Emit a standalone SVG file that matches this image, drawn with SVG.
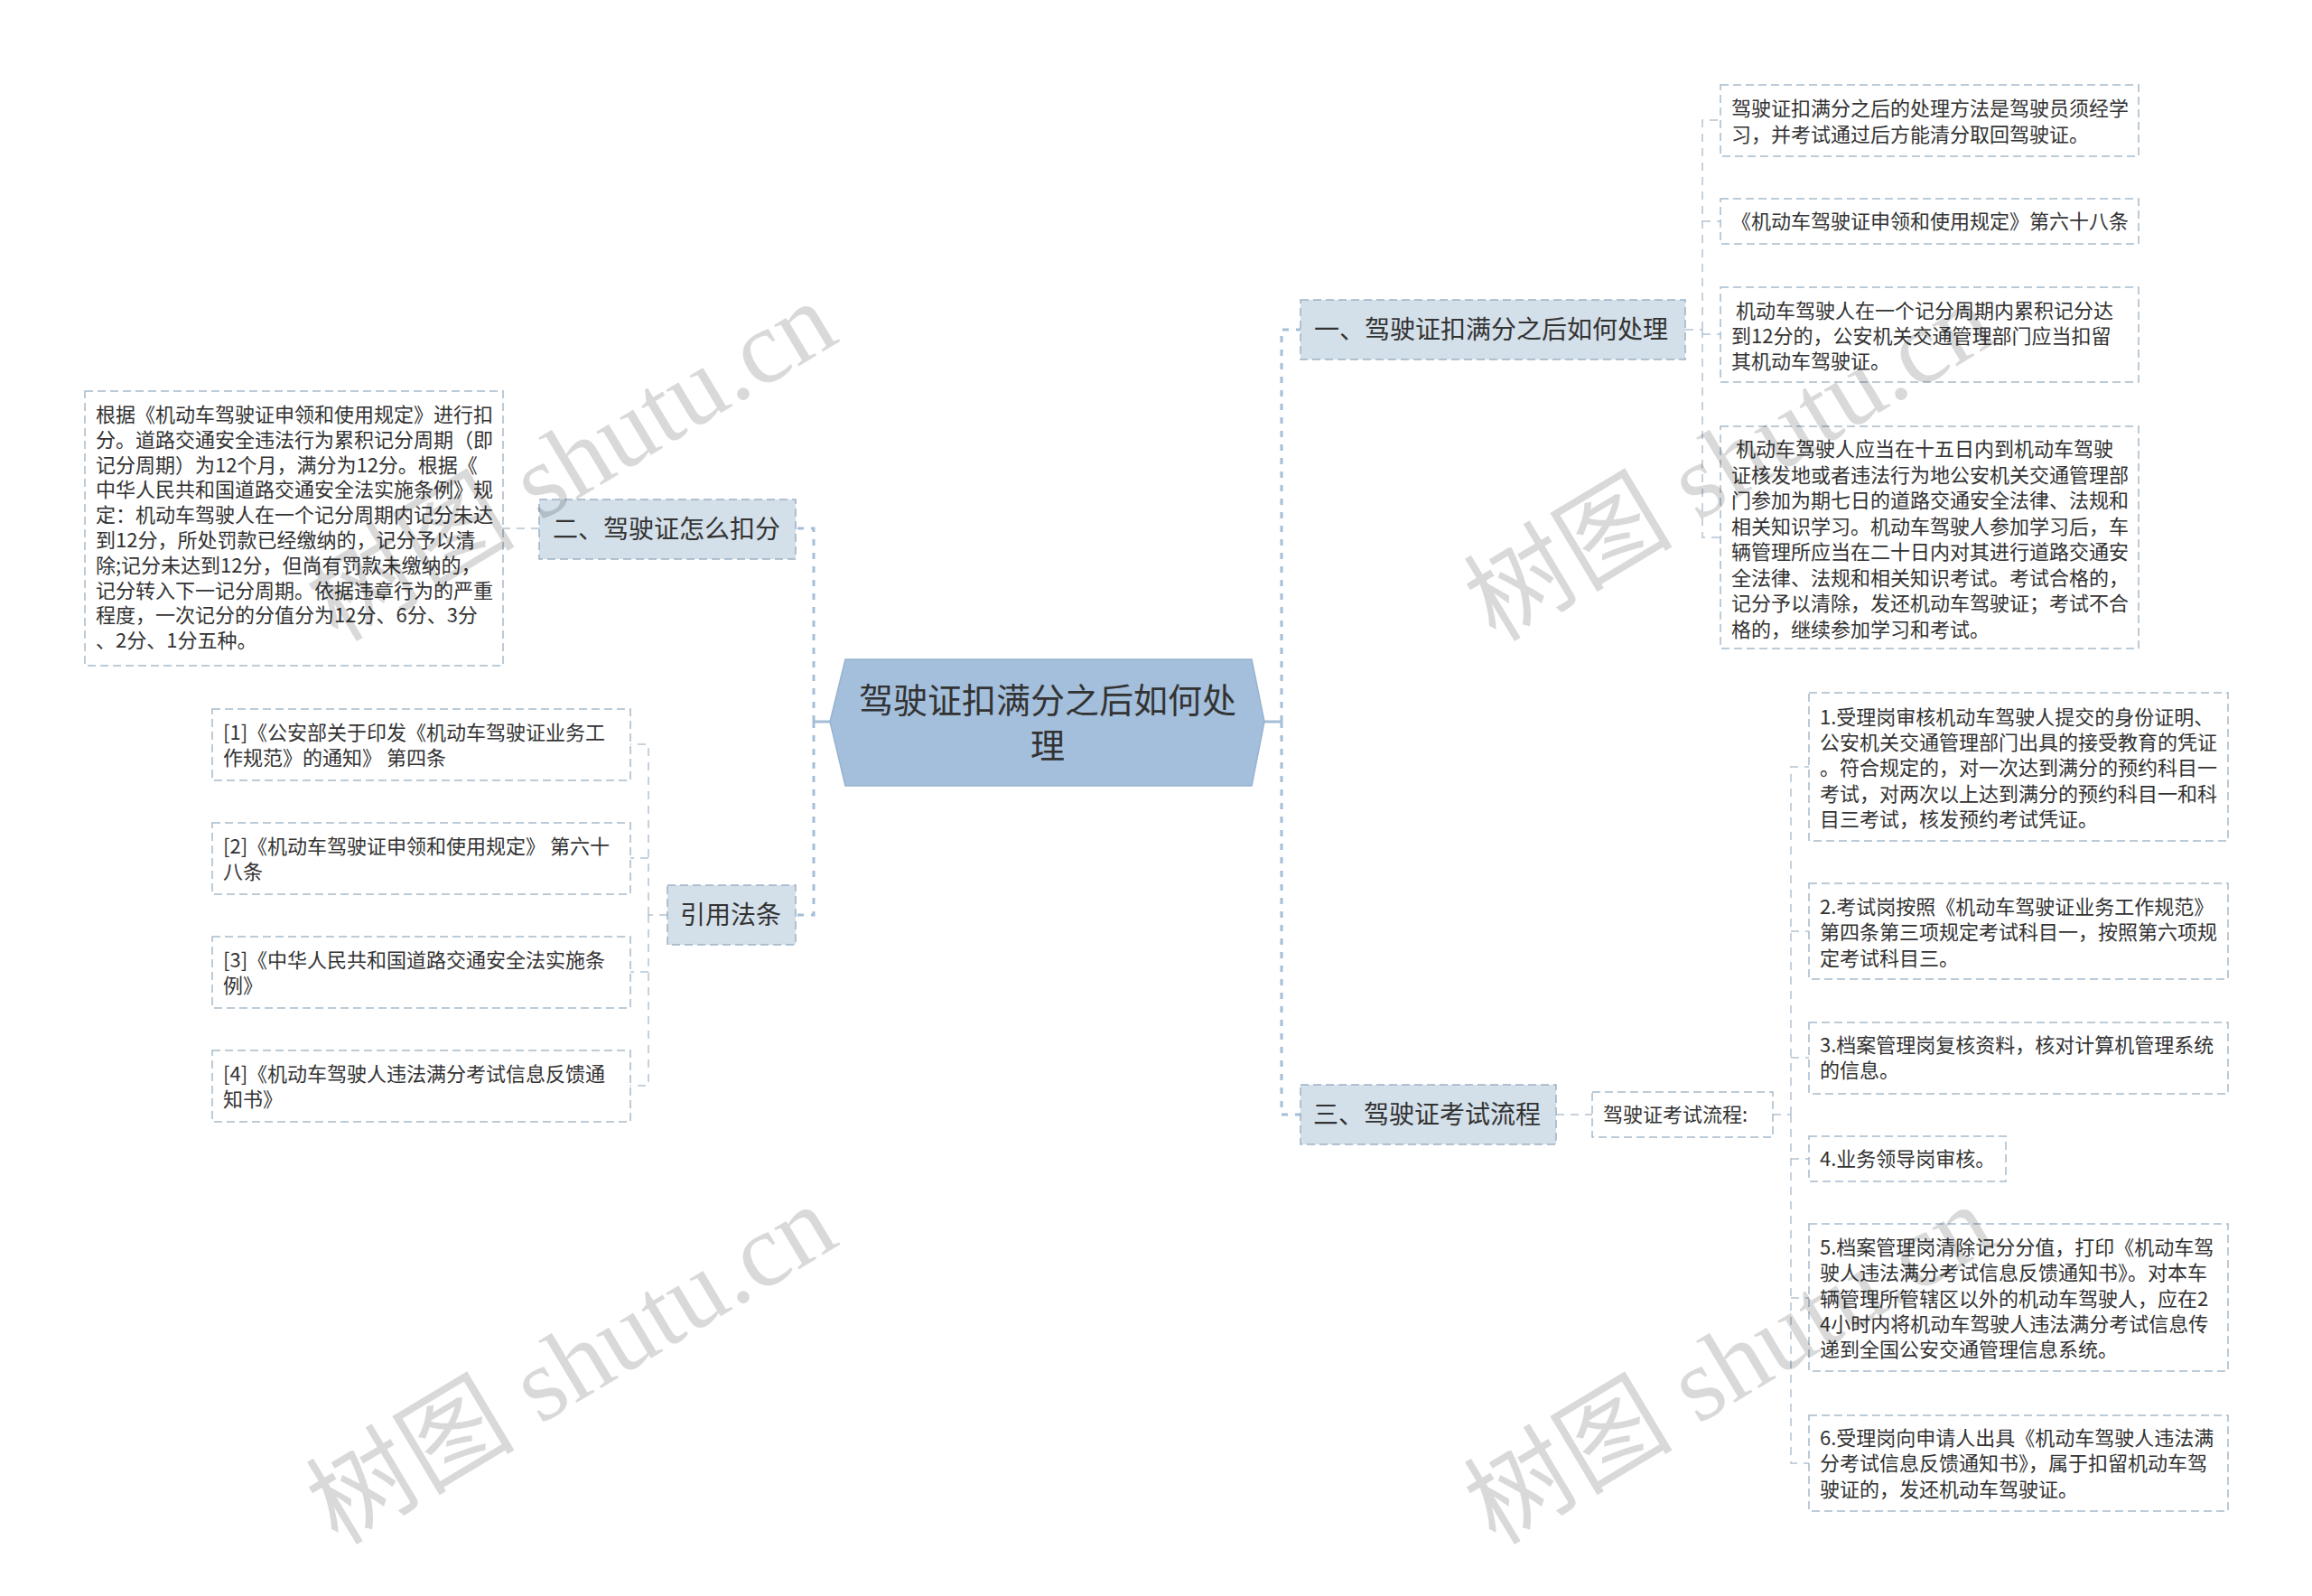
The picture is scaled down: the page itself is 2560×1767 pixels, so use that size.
<svg xmlns="http://www.w3.org/2000/svg" width="2560" height="1767" viewBox="0 0 2560 1767">
<style>
text{font-family:"Noto Sans CJK SC","Noto Sans",sans-serif;fill:#333;}
.t22{font-size:22px;}
.t28{font-size:28px;}
.t38{font-size:38px;}
.leaf{fill:#fff;stroke:#a6bacb;stroke-width:1.5;stroke-dasharray:9 5;}
.branch{fill:#d3dfe9;stroke:#9db2c6;stroke-width:1.5;stroke-dasharray:9 5;}
.center{fill:#a3bfdb;stroke:#97b3cf;stroke-width:1.5;}
.c1{fill:none;stroke:#a5bed8;stroke-width:3;stroke-dasharray:7 8;}
.c1s{fill:none;stroke:#a5bed8;stroke-width:3;}
.c2{fill:none;stroke:#b3c3d2;stroke-width:1.5;stroke-dasharray:9 7;}
.wm{font-family:"Liberation Serif","Noto Sans CJK SC",serif;font-size:116px;fill:#000;fill-opacity:0.15;}
</style>
<rect width="2560" height="1767" fill="#fff"/>
<g id="connectors">
<path class="c1s" d="M919,799 H901 M1400,799 H1419"/>
<path class="c1" d="M901,799 V585 H881 M901,799 V1013 H881"/>
<path class="c1" d="M1419,799 V365 H1440 M1419,799 V1234 H1440"/>
<path class="c2" d="M1866,365 H1885 M1885,365 V133 H1905 M1885,245 H1905 M1885,370 H1905 M1885,365 V595 H1905"/>
<path class="c2" d="M597,585 H557"/>
<path class="c2" d="M739,1013 H718 M718,1013 V824 H698 M718,950 H698 M718,1013 V1202 H698 M718,1076 H698"/>
<path class="c2" d="M1723,1234 H1763 M1963,1234 H1983 M1983,1234 V849 H2003 M1983,1031 H2003 M1983,1171 H2003 M1983,1234 V1620 H2003 M1983,1283 H2003 M1983,1437 H2003"/>
</g>
<g id="center">
<polygon class="center" points="919,799 936,730 1386,730 1400,799 1386,870 936,870"/>
<text class="t38" x="1160" y="789" text-anchor="middle">驾驶证扣满分之后如何处</text>
<text class="t38" x="1160" y="839" text-anchor="middle">理</text>
</g>
<g id="b1">
<rect class="branch" x="1440" y="332" width="426" height="66"/>
<text class="t28" x="1455" y="375">一、驾驶证扣满分之后如何处理</text>
</g>
<g id="b1a">
<rect class="leaf" x="1905" y="94" width="463" height="79"/>
<text class="t22" x="1917" y="128">驾驶证扣满分之后的处理方法是驾驶员须经学</text>
<text class="t22" x="1917" y="157">习，并考试通过后方能清分取回驾驶证。</text>
</g>
<g id="b1b">
<rect class="leaf" x="1905" y="220" width="463" height="50"/>
<text class="t22" x="1917" y="253">《机动车驾驶证申领和使用规定》第六十八条</text>
</g>
<g id="b1c">
<rect class="leaf" x="1905" y="318" width="463" height="105"/>
<text class="t22" x="1917" y="352" xml:space="preserve" style="white-space:pre"> 机动车驾驶人在一个记分周期内累积记分达</text>
<text class="t22" x="1917" y="380">到12分的，公安机关交通管理部门应当扣留</text>
<text class="t22" x="1917" y="408">其机动车驾驶证。</text>
</g>
<g id="b1d">
<rect class="leaf" x="1905" y="472" width="463" height="246"/>
<text class="t22" x="1917" y="505" xml:space="preserve" style="white-space:pre"> 机动车驾驶人应当在十五日内到机动车驾驶</text>
<text class="t22" x="1917" y="533.5">证核发地或者违法行为地公安机关交通管理部</text>
<text class="t22" x="1917" y="562">门参加为期七日的道路交通安全法律、法规和</text>
<text class="t22" x="1917" y="590.5">相关知识学习。机动车驾驶人参加学习后，车</text>
<text class="t22" x="1917" y="619">辆管理所应当在二十日内对其进行道路交通安</text>
<text class="t22" x="1917" y="647.5">全法律、法规和相关知识考试。考试合格的，</text>
<text class="t22" x="1917" y="676">记分予以清除，发还机动车驾驶证；考试不合</text>
<text class="t22" x="1917" y="704.5">格的，继续参加学习和考试。</text>
</g>
<g id="b2">
<rect class="branch" x="597" y="553" width="284" height="66"/>
<text class="t28" x="612" y="596">二、驾驶证怎么扣分</text>
</g>
<g id="b2a">
<rect class="leaf" x="94" y="433" width="463" height="304"/>
<text class="t22" x="106" y="467">根据《机动车驾驶证申领和使用规定》进行扣</text>
<text class="t22" x="106" y="495">分。道路交通安全违法行为累积记分周期（即</text>
<text class="t22" x="106" y="523">记分周期）为12个月，满分为12分。根据《</text>
<text class="t22" x="106" y="550">中华人民共和国道路交通安全法实施条例》规</text>
<text class="t22" x="106" y="578">定：机动车驾驶人在一个记分周期内记分未达</text>
<text class="t22" x="106" y="606">到12分，所处罚款已经缴纳的，记分予以清</text>
<text class="t22" x="106" y="634">除;记分未达到12分，但尚有罚款未缴纳的，</text>
<text class="t22" x="106" y="662">记分转入下一记分周期。依据违章行为的严重</text>
<text class="t22" x="106" y="689">程度，一次记分的分值分为12分、6分、3分</text>
<text class="t22" x="106" y="717">、2分、1分五种。</text>
</g>
<g id="b4">
<rect class="branch" x="739" y="980" width="142" height="66"/>
<text class="t28" x="753" y="1023">引用法条</text>
</g>
<g id="r1">
<rect class="leaf" x="235" y="785" width="463" height="79"/>
<text class="t22" x="247" y="819">[1]《公安部关于印发《机动车驾驶证业务工</text>
<text class="t22" x="247" y="847">作规范》的通知》 第四条</text>
</g>
<g id="r2">
<rect class="leaf" x="235" y="911" width="463" height="79"/>
<text class="t22" x="247" y="945">[2]《机动车驾驶证申领和使用规定》 第六十</text>
<text class="t22" x="247" y="973">八条</text>
</g>
<g id="r3">
<rect class="leaf" x="235" y="1037" width="463" height="79"/>
<text class="t22" x="247" y="1071">[3]《中华人民共和国道路交通安全法实施条</text>
<text class="t22" x="247" y="1099">例》</text>
</g>
<g id="r4">
<rect class="leaf" x="235" y="1163" width="463" height="79"/>
<text class="t22" x="247" y="1197">[4]《机动车驾驶人违法满分考试信息反馈通</text>
<text class="t22" x="247" y="1225">知书》</text>
</g>
<g id="b3">
<rect class="branch" x="1440" y="1201" width="283" height="66"/>
<text class="t28" x="1454" y="1244">三、驾驶证考试流程</text>
</g>
<g id="b3a">
<rect class="leaf" x="1763" y="1209" width="200" height="50"/>
<text class="t22" x="1775" y="1242">驾驶证考试流程:</text>
</g>
<g id="s1">
<rect class="leaf" x="2003" y="767" width="464" height="164"/>
<text class="t22" x="2015" y="801.5">1.受理岗审核机动车驾驶人提交的身份证明、</text>
<text class="t22" x="2015" y="830">公安机关交通管理部门出具的接受教育的凭证</text>
<text class="t22" x="2015" y="858">。符合规定的，对一次达到满分的预约科目一</text>
<text class="t22" x="2015" y="886.5">考试，对两次以上达到满分的预约科目一和科</text>
<text class="t22" x="2015" y="915">目三考试，核发预约考试凭证。</text>
</g>
<g id="s2">
<rect class="leaf" x="2003" y="978" width="464" height="106"/>
<text class="t22" x="2015" y="1012">2.考试岗按照《机动车驾驶证业务工作规范》</text>
<text class="t22" x="2015" y="1040">第四条第三项规定考试科目一，按照第六项规</text>
<text class="t22" x="2015" y="1069">定考试科目三。</text>
</g>
<g id="s3">
<rect class="leaf" x="2003" y="1132" width="464" height="79"/>
<text class="t22" x="2015" y="1165">3.档案管理岗复核资料，核对计算机管理系统</text>
<text class="t22" x="2015" y="1193">的信息。</text>
</g>
<g id="s4">
<rect class="leaf" x="2003" y="1258" width="218" height="50"/>
<text class="t22" x="2015" y="1291">4.业务领导岗审核。</text>
</g>
<g id="s5">
<rect class="leaf" x="2003" y="1355" width="464" height="163"/>
<text class="t22" x="2015" y="1389">5.档案管理岗清除记分分值，打印《机动车驾</text>
<text class="t22" x="2015" y="1417">驶人违法满分考试信息反馈通知书》。对本车</text>
<text class="t22" x="2015" y="1446">辆管理所管辖区以外的机动车驾驶人，应在2</text>
<text class="t22" x="2015" y="1474">4小时内将机动车驾驶人违法满分考试信息传</text>
<text class="t22" x="2015" y="1502">递到全国公安交通管理信息系统。</text>
</g>
<g id="s6">
<rect class="leaf" x="2003" y="1567" width="464" height="106"/>
<text class="t22" x="2015" y="1600">6.受理岗向申请人出具《机动车驾驶人违法满</text>
<text class="t22" x="2015" y="1628">分考试信息反馈通知书》，属于扣留机动车驾</text>
<text class="t22" x="2015" y="1657">驶证的，发还机动车驾驶证。</text>
</g>
<g id="watermarks">
<text class="wm" transform="translate(374,712) rotate(-31)">树图 shutu.cn</text>
<text class="wm" transform="translate(1656,712) rotate(-31)">树图 shutu.cn</text>
<text class="wm" transform="translate(374,1712) rotate(-31)">树图 shutu.cn</text>
<text class="wm" transform="translate(1656,1712) rotate(-31)">树图 shutu.cn</text>
</g>
</svg>
